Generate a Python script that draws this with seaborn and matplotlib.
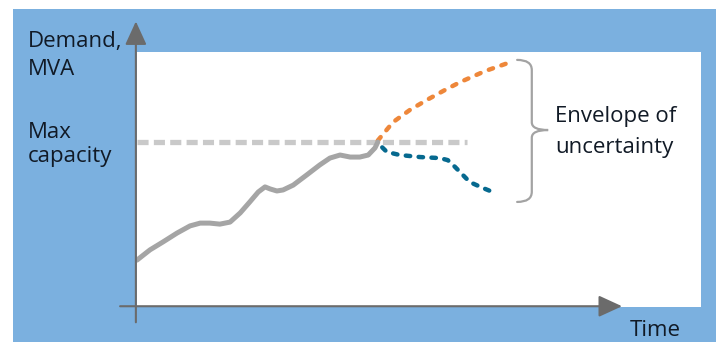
import matplotlib
matplotlib.use("Agg")
import matplotlib.pyplot as plt
from matplotlib.patches import Rectangle, PathPatch
from matplotlib.path import Path
import seaborn as sns
import pandas as pd

# Historical demand (time units, % of vertical scale)
hist_time = [0, 2.3, 4.6, 7.1, 9.4, 11.2, 12.9, 14.7, 16.5, 18.3, 20.0, 21.5, 22.7,
             23.6, 24.8, 25.9, 27.7, 30.1, 32.4, 34.2, 36.0, 37.8, 39.5, 41.0, 42.2, 42.7]
hist_demand = [18.4, 22.4, 25.5, 29.0, 31.8, 32.9, 32.9, 32.5, 33.3, 36.9, 41.2, 45.1, 47.1,
               46.3, 45.5, 45.9, 47.8, 51.8, 55.7, 58.4, 59.6, 58.8, 58.8, 59.6, 62.4, 64.7]

# High-growth forecast
high_time = [42.7, 45.4, 48.4, 51.4, 54.6, 57.3, 61.7, 65.8]
high_demand = [65.3, 72.5, 77.3, 81.2, 85.1, 88.2, 92.5, 95.7]

# Low-growth forecast
low_time = [42.7, 44.3, 46.6, 50.2, 53.7, 55.1, 56.4, 59.0, 61.3, 63.5]
low_demand = [64.3, 60.8, 59.6, 58.8, 58.4, 57.6, 54.9, 49.0, 46.7, 44.7]

# Network capacity limit
cap_time = [0, 58.5]
cap_level = [64.7, 64.7]

W, H = 720, 342
sns.set_theme(style="white")
plt.rcParams["font.family"] = ["Open Sans", "DejaVu Sans"]

fig = plt.figure(figsize=(W / 100, H / 100), dpi=100)
fig.patch.set_facecolor("white")
fig.patches.append(Rectangle((13 / W, 0), (716 - 13) / W, (H - 9) / H,
                             transform=fig.transFigure, facecolor="#7bb0df",
                             edgecolor="none", zorder=-5))

ax = fig.add_axes([137 / W, (H - 307) / H, (701 - 137) / W, (307 - 52) / H])
ax.set_zorder(1)
ax.set_facecolor("white")
ax.set_xlim(0, 100)
ax.set_ylim(0, 100)
for s in ax.spines.values():
    s.set_visible(False)
ax.set_xticks([])
ax.set_yticks([])

df_cap = pd.DataFrame({"t": cap_time, "d": cap_level})
df_hist = pd.DataFrame({"t": hist_time, "d": hist_demand})
df_high = pd.DataFrame({"t": high_time, "d": high_demand})
df_low = pd.DataFrame({"t": low_time, "d": low_demand})

sns.lineplot(data=df_cap, x="t", y="d", ax=ax, color="#c9c9c9", lw=3.8, sort=False)
ax.lines[-1].set_dashes([2.1, 1.0])
ax.lines[-1].set_dash_capstyle("butt")

sns.lineplot(data=df_high, x="t", y="d", ax=ax, color="#ee873a", lw=3.2, sort=False)
ax.lines[-1].set_dashes([1.0, 2.0])
ax.lines[-1].set_dash_capstyle("round")

sns.lineplot(data=df_low, x="t", y="d", ax=ax, color="#06698f", lw=3.2, sort=False)
ax.lines[-1].set_linestyle((1.5, (1.0, 1.9)))
ax.lines[-1].set_dash_capstyle("round")

sns.lineplot(data=df_hist, x="t", y="d", ax=ax, color="#a5a5a5", lw=3.6, sort=False)
ax.lines[-1].set_solid_capstyle("round")
ax.lines[-1].set_solid_joinstyle("round")
ax.set_xlabel("")
ax.set_ylabel("")

# Axis arrows
axis_col = "#6b6b6b"
ax.annotate("", xy=(-0.2, 112), xytext=(-0.2, -6),
            arrowprops=dict(arrowstyle="-|>,head_length=1.2,head_width=0.55",
                            color=axis_col, lw=1.5, shrinkA=0, shrinkB=0),
            annotation_clip=False)
ax.annotate("", xy=(86, 0.3), xytext=(-3, 0.3),
            arrowprops=dict(arrowstyle="-|>,head_length=1.2,head_width=0.55",
                            color=axis_col, lw=1.5, shrinkA=0, shrinkB=0),
            annotation_clip=False)

# Curly brace around the forecast spread
x0, xm, xt = 67.4, 70.0, 72.9
yt, yb, ym = 96.9, 41.2, 69.4
verts = [(x0, yt), (xm, yt), (xm, yt - 4),
         (xm, ym + 3),
         (xm, ym), (xt, ym),
         (xm, ym), (xm, ym - 3),
         (xm, yb + 4),
         (xm, yb), (x0, yb)]
codes = [Path.MOVETO, Path.CURVE3, Path.CURVE3,
         Path.LINETO,
         Path.CURVE3, Path.CURVE3,
         Path.CURVE3, Path.CURVE3,
         Path.LINETO,
         Path.CURVE3, Path.CURVE3]
ax.add_patch(PathPatch(Path(verts, codes), facecolor="none", edgecolor="#a3a3a3",
                       lw=1.6, capstyle="round", clip_on=False))

txt_col = "#111a26"
fs = 16


def px(x, y):
    return x / W, 1 - y / H


for (x, y, s) in [(28, 47, "Demand,"), (28, 75, "MVA"), (28, 138, "Max"),
                  (28, 162, "capacity"), (555, 122, "Envelope of"),
                  (555, 153, "uncertainty"), (630, 336, "Time")]:
    fig.text(*px(x, y), s, fontsize=fs, color=txt_col, va="baseline")

fig.savefig("out.png", dpi=100)
